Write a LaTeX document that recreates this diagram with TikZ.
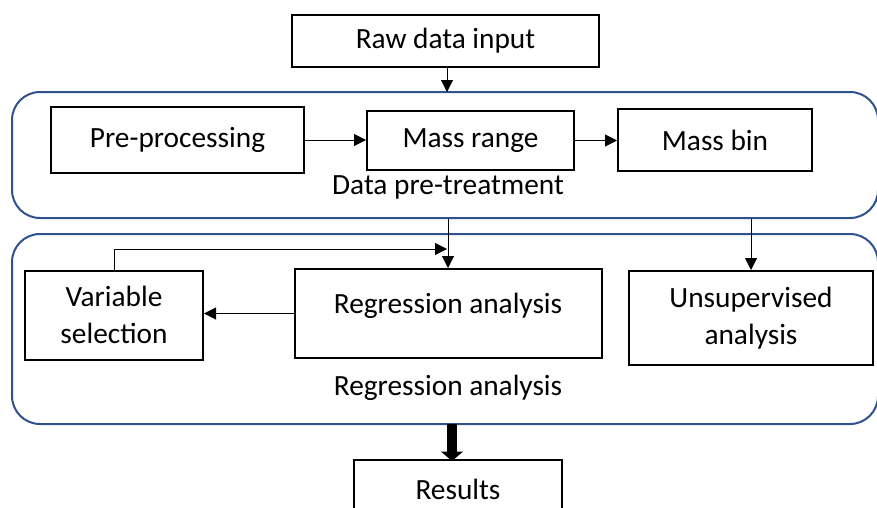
\documentclass[tikz,border=0pt]{standalone}
\usepackage{fontspec}
\setmainfont{Carlito}
\usetikzlibrary{arrows.meta,calc}
\definecolor{grpblue}{RGB}{47,82,143}
\tikzset{
  box/.style={draw=black, line width=1.5pt, rectangle, inner sep=0pt, align=center,
    font=\fontsize{22}{28}\selectfont},
  group/.style={draw=grpblue, line width=1.5pt, rectangle, rounded corners=21pt, inner sep=0pt},
  lbl/.style={inner sep=0pt, font=\fontsize{22}{28}\selectfont},
  arr/.style={line width=0.75pt, -{Triangle[length=9pt,width=9pt]}},
  bigarr/.style={line width=7.5pt, -{Triangle[length=7pt,width=16pt]}},
}
\begin{document}
\begin{tikzpicture}[x=0.75pt,y=-0.75pt]
\useasboundingbox (0,0) rectangle (877,507);
\clip (0,0) rectangle (877,507);
% groups
\node[group, minimum width=866*0.75pt, minimum height=126*0.75pt] (grpA) at (445,155) {};
\node[group, minimum width=866*0.75pt, minimum height=190*0.75pt] (grpB) at (445,329) {};
\node[lbl] (lblA) at (448,187) {Data pre-treatment};
\node[lbl] (lblB) at (448,388) {Regression analysis};
% boxes
\node[box, minimum width=307*0.75pt, minimum height=52*0.75pt] (raw) at (445.5,41) {Raw data input};
\node[box, minimum width=253*0.75pt, minimum height=66*0.75pt] (pre) at (177.5,140) {Pre-processing};
\node[box, minimum width=207*0.75pt, minimum height=59*0.75pt] (mr) at (470.5,140.5) {Mass range};
\node[box, minimum width=194*0.75pt, minimum height=62*0.75pt] (mb) at (715,140) {Mass bin};
\node[box, minimum width=178*0.75pt, minimum height=89*0.75pt] (vs) at (114,315) {Variable\\selection};
\node[box, minimum width=307*0.75pt, minimum height=89*0.75pt, text height=15pt, text depth=15pt] (regr) at (448,313.5) {Regression analysis};
\node[box, minimum width=244*0.75pt, minimum height=94*0.75pt] (uns) at (751,318) {Unsupervised\\analysis};
\node[box, minimum width=208*0.75pt, minimum height=58*0.75pt] (res) at (458,489) {Results};
% connectors
\coordinate (rawbot) at (447,67);
\coordinate (grpAtop) at (447,92);
\draw[arr] (rawbot) -- (grpAtop);
\draw[arr] (pre.east) -- (pre.east -| mr.west);
\draw[arr] (mr.east) -- (mr.east -| mb.west);
\draw[arr] (regr.north |- grpA.south) -- (regr.north);
\draw[arr] (uns.north |- grpA.south) -- (uns.north);
\draw[arr] (regr.west) -- (regr.west -| vs.east);
\coordinate (fb) at (447,249);
\draw[arr] (vs.north) |- (fb);
\coordinate (ta) at (452,424);
\coordinate (tb) at (452,461);
\draw[bigarr] (ta) -- (tb);
\end{tikzpicture}
\end{document}
